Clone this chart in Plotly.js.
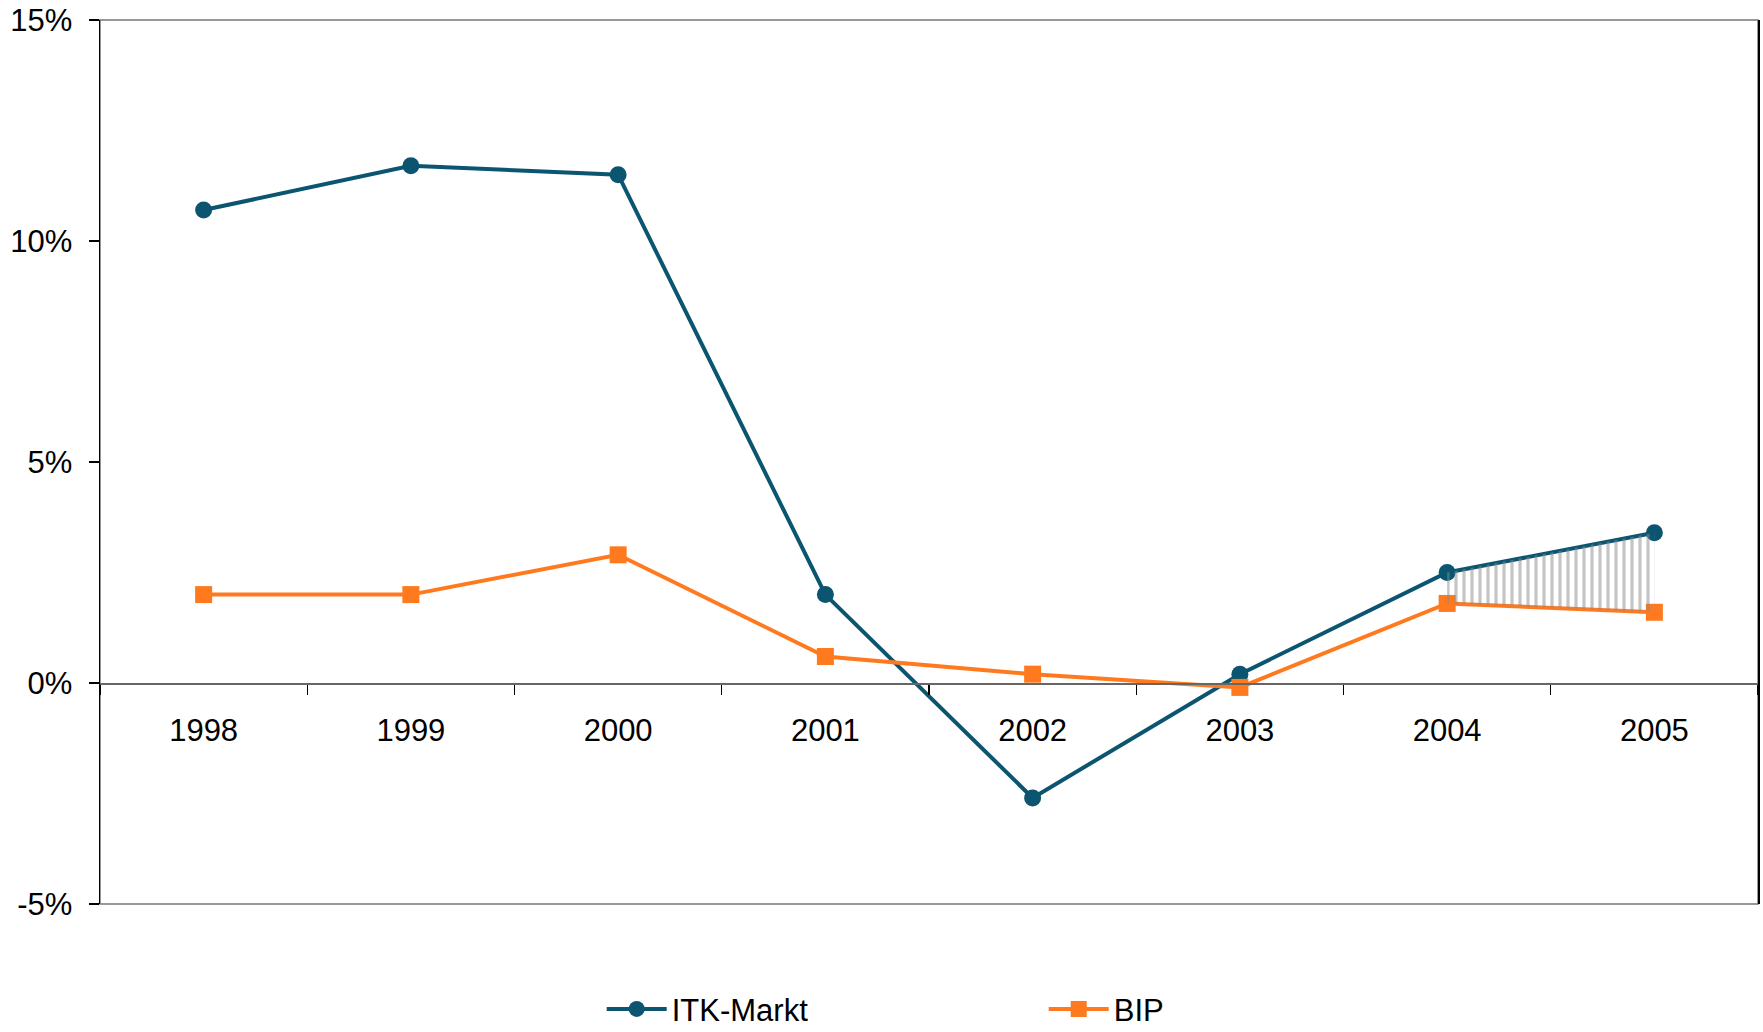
<!DOCTYPE html>
<html><head><meta charset="utf-8">
<script src="https://cdn.plot.ly/plotly-3.0.1.min.js"></script>
<style>html,body{margin:0;padding:0;background:#fff}#chart{width:1763px;height:1032px}</style>
</head><body><div id="chart"></div>
<script>
const years = ['1998','1999','2000','2001','2002','2003','2004','2005'];
const itkMarkt = [10.7, 11.7, 11.5, 2.0, -2.6, 0.2, 2.5, 3.4];
const bip = [2.0, 2.0, 2.9, 0.6, 0.2, -0.1, 1.8, 1.6];
const yTickVals = [-5, 0, 5, 10, 15];
const yTickText = ['-5%', '0%', '5%', '10%', '15%'];
const hatchStart = 6; // shaded gap from 2004 to 2005

const tealColor = '#0B5570';
const orangeColor = '#FF7A1E';
const baseFont = "'Liberation Sans', Arial, sans-serif";

const traces = [
  {x: years, y: itkMarkt, name: 'ITK-Markt', mode: 'lines+markers', line: {color: tealColor, width: 4}, marker: {symbol: 'circle', size: 17, color: tealColor}},
  {x: years, y: bip, name: 'BIP', mode: 'lines+markers', line: {color: orangeColor, width: 4}, marker: {symbol: 'square', size: 17, color: orangeColor}},
  {x: years.slice(hatchStart), y: bip.slice(hatchStart), mode: 'lines', line: {width: 0, color: 'rgba(0,0,0,0)'}, showlegend: false, hoverinfo: 'skip'},
  {x: years.slice(hatchStart), y: itkMarkt.slice(hatchStart), mode: 'lines', line: {width: 0, color: 'rgba(0,0,0,0)'}, fill: 'tonexty', fillcolor: 'rgba(255,255,255,0)',
   fillpattern: {shape: '|', size: 8, solidity: 0.4, fgcolor: '#8a8a8a', bgcolor: 'rgba(255,255,255,0)', fillmode: 'overlay'}, showlegend: false, hoverinfo: 'skip'}
];

const layout = {
  width: 1763, height: 1032,
  margin: {l: 100, r: 5, t: 20, b: 128},
  paper_bgcolor: '#fff', plot_bgcolor: '#fff',
  font: {family: baseFont, size: 31, color: '#000'},
  showlegend: true,
  legend: {orientation: 'h', traceorder: 'normal', x: 0.3026, xanchor: 'left', xref: 'paper', yref: 'container', y: 0.022, yanchor: 'middle',
           itemwidth: 60, entrywidth: 367,
           font: {family: baseFont, size: 31, color: '#000'}, bgcolor: 'rgba(0,0,0,0)', borderwidth: 0},
  xaxis: {type: 'category', categoryorder: 'array', categoryarray: years, range: [-0.5, 7.5], anchor: 'free', position: 0.25,
          showline: true, linecolor: '#666', linewidth: 1.5,
          ticks: 'outside', tickson: 'boundaries', ticklen: 10, tickcolor: '#000', tickwidth: 1.2, showgrid: false, zeroline: false,
          ticklabelstandoff: 19, tickfont: {family: baseFont, size: 31, color: '#000'}},
  yaxis: {range: [-5, 15], tickvals: yTickVals, ticktext: yTickText, ticks: 'outside', ticklen: 10, tickcolor: '#000', tickwidth: 1.2,
          showline: true, linecolor: '#000', linewidth: 1.5, mirror: true, showgrid: false, zeroline: false,
          ticklabelstandoff: 10, tickfont: {family: baseFont, size: 31, color: '#000'}},
  shapes: [{type: 'rect', xref: 'paper', yref: 'paper', x0: 0, x1: 1, y0: 0, y1: 1, line: {color: '#777', width: 1.5}, layer: 'below'}]
};

Plotly.newPlot('chart', traces, layout, {staticPlot: true, displayModeBar: false});
</script>
</body></html>
